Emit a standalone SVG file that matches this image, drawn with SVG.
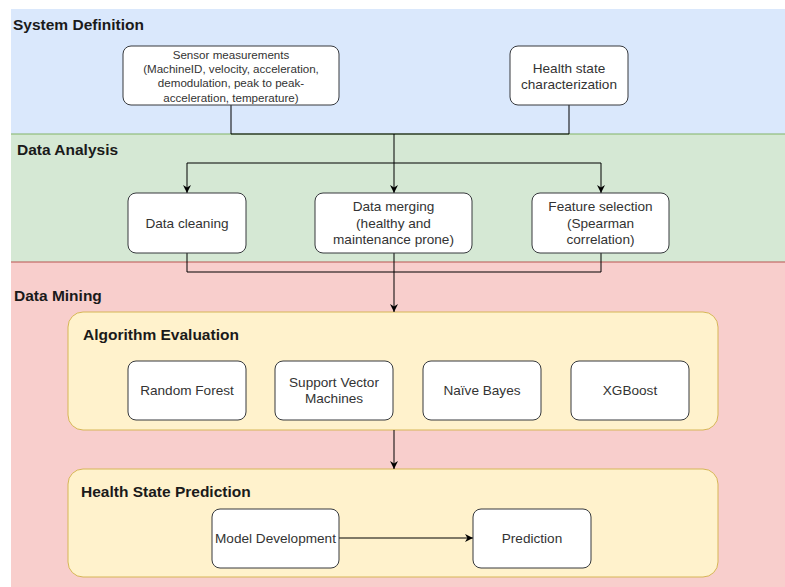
<svg xmlns="http://www.w3.org/2000/svg" width="785" height="587" viewBox="0 0 785 587">
<style>
.node{fill:#ffffff;stroke:#36393d;stroke-width:1}
.cont{fill:#fff2cc;stroke:#d6b656;stroke-width:1}
.t{font-family:"Liberation Sans",Arial,sans-serif;font-size:13.6px;fill:#333333;text-anchor:middle}
.ts{font-family:"Liberation Sans",Arial,sans-serif;font-size:11.6px;fill:#333333;text-anchor:middle}
.h{font-family:"Liberation Sans",Arial,sans-serif;font-size:15.5px;font-weight:bold;fill:#1a1a1a}
.c{fill:none;stroke:#000000;stroke-width:1}
</style>
<defs>
<marker id="arr" viewBox="0 0 10 10" refX="10" refY="5" markerWidth="8" markerHeight="8" markerUnits="userSpaceOnUse" orient="auto">
<path d="M0,0 L10,5 L0,10 L3,5 Z" fill="#000000"/>
</marker>
</defs>
<rect width="785" height="587" fill="#ffffff"/>
<g id="band-system">
<rect x="11" y="9" width="774" height="125" fill="#dae8fc"/>
<text class="h" x="13" y="30">System Definition</text>
</g>
<g id="band-analysis">
<rect x="11" y="134" width="774" height="128" fill="#d5e8d4"/>
<line x1="11" y1="134" x2="785" y2="134" stroke="#82b366"/>
<text class="h" x="17" y="154.5">Data Analysis</text>
</g>
<g id="band-mining">
<rect x="11" y="262" width="774" height="325" fill="#f8cecc"/>
<line x1="11" y1="262" x2="785" y2="262" stroke="#b85450"/>
<text class="h" x="14" y="301">Data Mining</text>
</g>
<g id="algo-eval">
<rect class="cont" x="68" y="312" width="650" height="118" rx="15"/>
<text class="h" x="83" y="339.5">Algorithm Evaluation</text>
</g>
<g id="health-pred">
<rect class="cont" x="68" y="469" width="650" height="108" rx="15"/>
<text class="h" x="81" y="497">Health State Prediction</text>
</g>
<g id="connectors">
<path class="c" d="M231,105 V134 H569 V105"/>
<path class="c" d="M394,134 V193" marker-end="url(#arr)"/>
<path class="c" d="M394,163 H187 V193" marker-end="url(#arr)"/>
<path class="c" d="M394,163 H601 V193" marker-end="url(#arr)"/>
<path class="c" d="M187,253 V272 H601 V253"/>
<path class="c" d="M394,253 V312" marker-end="url(#arr)"/>
<path class="c" d="M394,430 V469" marker-end="url(#arr)"/>
<path class="c" d="M339,538 H473" marker-end="url(#arr)"/>
</g>
<g id="sensor">
<rect class="node" x="123" y="46" width="216" height="59" rx="8"/>
<text class="ts" x="231" y="58.7">Sensor measurements</text>
<text class="ts" x="231" y="73">(MachineID, velocity, acceleration,</text>
<text class="ts" x="231" y="87.3">demodulation, peak to peak-</text>
<text class="ts" x="231" y="101.7">acceleration, temperature)</text>
</g>
<g id="health-char">
<rect class="node" x="510" y="46" width="118" height="59" rx="8"/>
<text class="t" x="569" y="73">Health state</text>
<text class="t" x="569" y="89">characterization</text>
</g>
<g id="cleaning">
<rect class="node" x="128" y="193" width="118" height="60" rx="8"/>
<text class="t" x="187" y="227.5">Data cleaning</text>
</g>
<g id="merging">
<rect class="node" x="315" y="193" width="157" height="60" rx="8"/>
<text class="t" x="393.5" y="211">Data merging</text>
<text class="t" x="393.5" y="227.5">(healthy and</text>
<text class="t" x="393.5" y="244">maintenance prone)</text>
</g>
<g id="feature">
<rect class="node" x="532" y="193" width="137" height="60" rx="8"/>
<text class="t" x="600.5" y="211">Feature selection</text>
<text class="t" x="600.5" y="227.5">(Spearman</text>
<text class="t" x="600.5" y="244">correlation)</text>
</g>
<g id="rf">
<rect class="node" x="128" y="361" width="118" height="59" rx="8"/>
<text class="t" x="187" y="395">Random Forest</text>
</g>
<g id="svm">
<rect class="node" x="275" y="361" width="118" height="59" rx="8"/>
<text class="t" x="334" y="387">Support Vector</text>
<text class="t" x="334" y="403">Machines</text>
</g>
<g id="nb">
<rect class="node" x="423" y="361" width="118" height="59" rx="8"/>
<text class="t" x="482" y="395">Naïve Bayes</text>
</g>
<g id="xgb">
<rect class="node" x="571" y="361" width="118" height="59" rx="8"/>
<text class="t" x="630" y="395">XGBoost</text>
</g>
<g id="model-dev">
<rect class="node" x="212" y="509" width="127" height="59" rx="8"/>
<text class="t" x="275.5" y="543">Model Development</text>
</g>
<g id="prediction">
<rect class="node" x="473" y="509" width="118" height="59" rx="8"/>
<text class="t" x="532" y="543">Prediction</text>
</g>
</svg>
